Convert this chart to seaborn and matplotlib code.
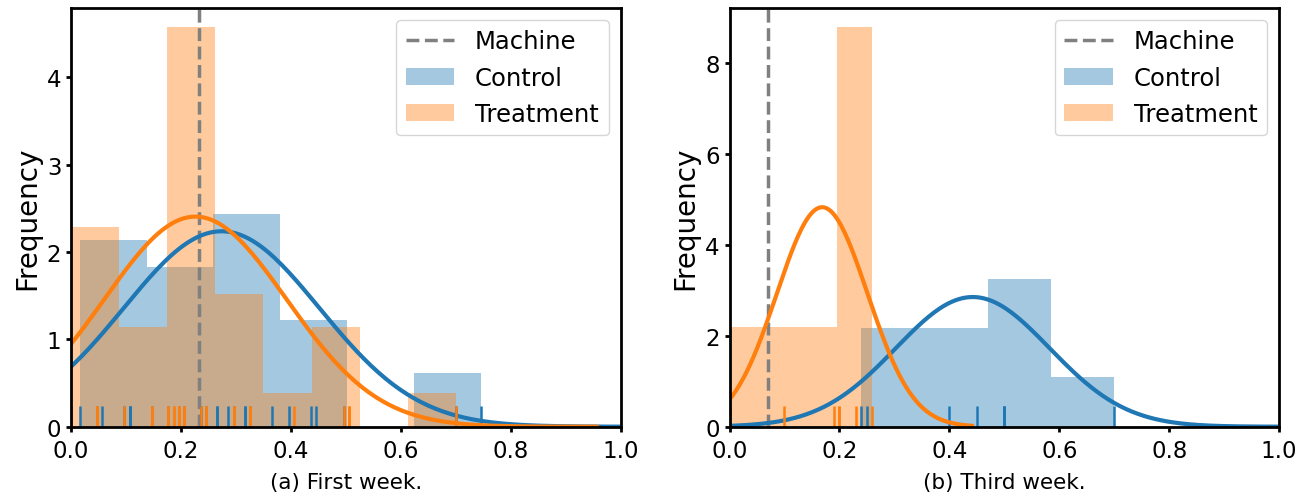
import numpy as np
import matplotlib
matplotlib.use('Agg')
import matplotlib.pyplot as plt
import seaborn as sns
from matplotlib.lines import Line2D
from matplotlib.patches import Patch

# panel (a) first week
control_week1 = [0.016, 0.047, 0.056, 0.096, 0.107, 0.107, 0.107,
                 0.147, 0.176, 0.196, 0.205, 0.236, 0.245,
                 0.265, 0.265, 0.285, 0.296, 0.316, 0.316, 0.325, 0.365,
                 0.396, 0.436, 0.445, 0.496,
                 0.70, 0.745]
treatment_week1 = [0.0, 0.0, 0.0, 0.0, 0.047, 0.047,
                   0.096, 0.147, 0.147,
                   0.176, 0.176, 0.187, 0.187, 0.196, 0.196, 0.196, 0.205, 0.205, 0.236, 0.245, 0.245,
                   0.296, 0.296, 0.325, 0.325,
                   0.405, 0.496, 0.505, 0.505, 0.70]
machine_week1 = 0.233

# panel (b) third week
control_week3 = [0.24, 0.25, 0.40, 0.45, 0.50, 0.50, 0.50, 0.70]
treatment_week3 = [0.0, 0.10, 0.19, 0.20, 0.20, 0.23, 0.26]
machine_week3 = 0.07

bins_week1 = (6, 8)
bins_week3 = (4, 4)
captions = ["(a) First week.", "(b) Third week."]

plt.rcParams['axes.linewidth'] = 2
plt.rcParams['xtick.major.width'] = 2
plt.rcParams['ytick.major.width'] = 2
plt.rcParams['xtick.major.size'] = 3.5
plt.rcParams['ytick.major.size'] = 3.5
plt.rcParams['xtick.major.pad'] = 5.5
plt.rcParams['xtick.labelsize'] = 16.5
plt.rcParams['ytick.labelsize'] = 16.5


def fit_curve(ax, data, color):
    # normal fit, same grid as the old distplot(fit=norm)
    a = np.asarray(data, dtype=float)
    mu, sd = a.mean(), a.std()
    bw = len(a) ** (-0.2) * a.std(ddof=1)
    x = np.linspace(a.min() - 3 * bw, a.max() + 3 * bw, 200)
    y = np.exp(-0.5 * ((x - mu) / sd) ** 2) / (sd * np.sqrt(2 * np.pi))
    ax.plot(x, y, color=color, lw=3)


fig, axes = plt.subplots(1, 2, figsize=(13.16, 5.02), dpi=100)
fig.subplots_adjust(left=0.054, right=0.972, bottom=0.148, top=0.983, wspace=0.198)

panels = [(control_week1, treatment_week1, machine_week1, bins_week1),
          (control_week3, treatment_week3, machine_week3, bins_week3)]

for ax, (ctrl, treat, machine, bins), cap in zip(axes, panels, captions):
    ax.axvline(machine, color='gray', ls='--', lw=2.5)
    for data, color, nb in [(ctrl, 'C0', bins[0]), (treat, 'C1', bins[1])]:
        sns.histplot(x=data, bins=nb, stat='density', color=color, alpha=0.4,
                     linewidth=0, ax=ax)
        fit_curve(ax, data, color)
        sns.rugplot(x=data, height=0.05, color=color, linewidth=1.8,
                    expand_margins=False, ax=ax)
    ax.set_xlim(0, 1)
    ax.set_ylabel('Frequency', fontsize=20)
    ax.set_xlabel(cap, fontsize=15.5, labelpad=7)
    handles = [Line2D([], [], color='gray', ls='--', lw=2.5),
               Patch(facecolor='C0', alpha=0.4),
               Patch(facecolor='C1', alpha=0.4)]
    ax.legend(handles, ['Machine', 'Control', 'Treatment'], loc='upper right',
              fontsize=17.5, handletextpad=0.85)

plt.savefig('out.png')
